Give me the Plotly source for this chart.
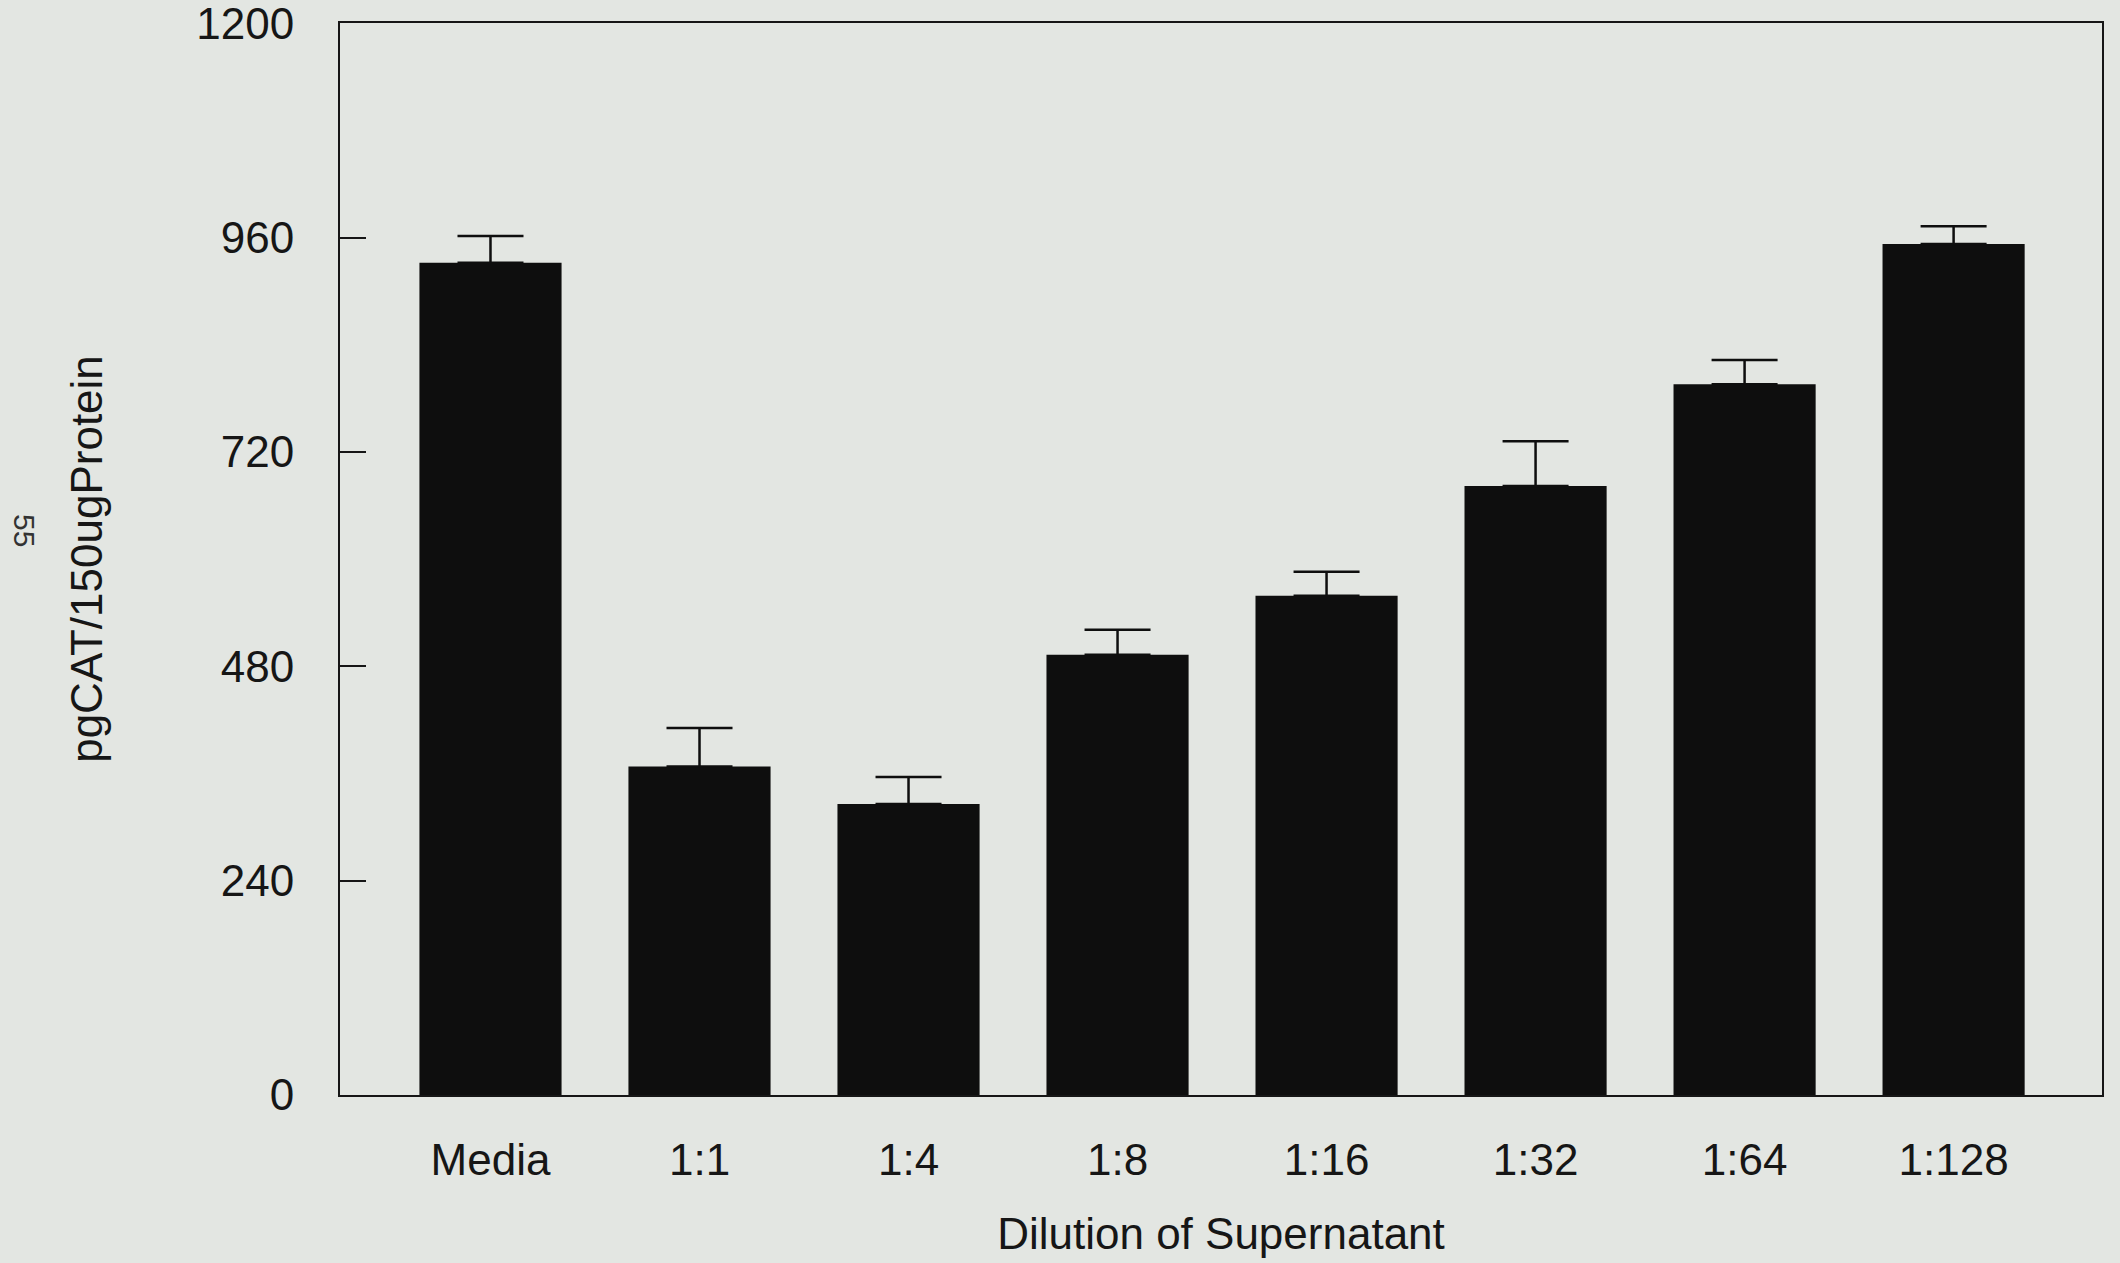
import plotly.graph_objects as go

categories = ["Media", "1:1", "1:4", "1:8", "1:16", "1:32", "1:64", "1:128"]
values = [932, 368, 326, 493, 559, 682, 796, 953]
errors = [30, 43, 30, 28, 27, 50, 27, 20]
y_ticks = [0, 240, 480, 720, 960, 1200]

BG = "#e3e6e2"
INK = "#161616"
BAR = "#0e0e0e"
FONT = "Liberation Sans, Arial, Helvetica, sans-serif"

W, H = 2120, 1263
L, R, T, B = 340, 18, 23, 168
PW, PH = W - L - R, H - T - B

fig = go.Figure()
fig.add_trace(go.Bar(
    x=categories,
    y=values,
    width=0.68,
    marker=dict(color=BAR, line=dict(width=0)),
    error_y=dict(type="data", symmetric=False, array=errors,
                 arrayminus=[0] * len(errors),
                 color=BAR, thickness=2.5, width=33),
    showlegend=False,
))

fig.update_layout(
    width=W, height=H,
    paper_bgcolor=BG, plot_bgcolor=BG,
    margin=dict(l=L, r=R, t=T, b=B),
    font=dict(family=FONT, size=44, color=INK),
    xaxis=dict(
        type="category",
        range=[-0.72, 7.71],
        automargin=False,
        showline=True, mirror=True, linecolor=INK, linewidth=2,
        ticks="", showgrid=False, zeroline=False,
        tickfont=dict(size=44),
        ticklabelstandoff=25,
        title=dict(text="Dilution of Supernatant", font=dict(size=44), standoff=35),
    ),
    yaxis=dict(
        range=[0, 1200.5],
        tickvals=y_ticks,
        automargin=False,
        showline=True, mirror=True, linecolor=INK, linewidth=2,
        ticks="inside", ticklen=26, tickwidth=2, tickcolor=INK,
        showgrid=False, zeroline=False,
        tickfont=dict(size=44),
        ticklabelstandoff=35,
        ticklabeloverflow="allow",
        title=dict(text="pgCAT/150ugProtein", font=dict(size=44), standoff=80),
    ),
    annotations=[dict(
        text="55",
        x=(25 - L) / PW, y=(H - B - 530) / PH,
        xref="paper", yref="paper", xanchor="center", yanchor="middle",
        showarrow=False, textangle=90, font=dict(size=30, color="#333"),
    )],
)

fig.write_html("out.html")
